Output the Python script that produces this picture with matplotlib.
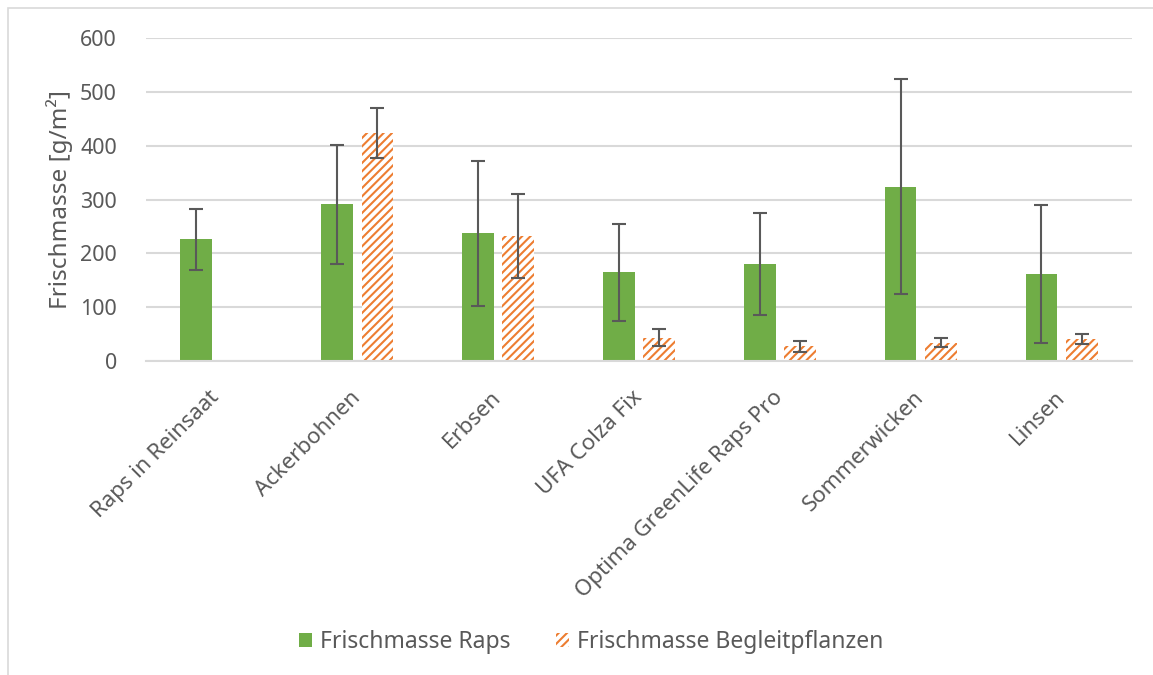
import numpy as np
import matplotlib
matplotlib.use("Agg")
import matplotlib.pyplot as plt
from matplotlib.patches import Rectangle

# Werte
categories = ["Raps in Reinsaat", "Ackerbohnen", "Erbsen", "UFA Colza Fix",
              "Optima GreenLife Raps Pro", "Sommerwicken", "Linsen"]
raps = [226, 291, 237, 165, 180, 324, 162]
raps_err = [57, 111, 135, 90, 95, 199, 128]
begleit = [np.nan, 424, 232, 43, 27, 34, 41]
begleit_err = [np.nan, 46, 78, 16, 11, 8, 10]

GREEN = "#70AD47"
ORANGE = "#ED7D31"
TEXT = "#595959"
GRID = "#D9D9D9"

plt.rcParams["font.family"] = ["Noto Sans", "DejaVu Sans"]
plt.rcParams["hatch.linewidth"] = 1.5

fig = plt.figure(figsize=(11.53, 6.75), dpi=100)
ax = fig.add_axes([146 / 1153, 1 - 361 / 675, 986 / 1153, 323 / 675])

x = np.arange(len(categories))
w = 0.225
off = 0.143

ax.bar(x - off, raps, w, color=GREEN, label="Frischmasse Raps", zorder=2)
ax.bar(x + off, begleit, w, facecolor="white", edgecolor=ORANGE, hatch="////",
       linewidth=0, label="Frischmasse Begleitpflanzen", zorder=2)

err_kw = dict(fmt="none", ecolor=TEXT, elinewidth=1.5, capsize=5, capthick=1.5, zorder=3)
ax.errorbar(x - off, raps, yerr=raps_err, **err_kw)
ax.errorbar(x + off, begleit, yerr=begleit_err, **err_kw)

ax.set_xlim(-0.5, len(categories) - 0.5)
ax.set_ylim(0, 600)
ax.set_yticks(range(0, 601, 100))
ax.yaxis.grid(True, color=GRID, linewidth=1.5, zorder=0)
ax.set_axisbelow(True)
for s in ["top", "right", "left"]:
    ax.spines[s].set_visible(False)
ax.spines["bottom"].set_color(GRID)
ax.spines["bottom"].set_linewidth(1.5)
ax.tick_params(length=0, colors=TEXT)
ax.tick_params(axis="y", labelsize=15.5, pad=21)
ax.tick_params(axis="x", pad=24)

ax.set_xticks(x)
ax.set_xticklabels(categories, rotation=45, ha="right", va="center",
                   rotation_mode="anchor", fontsize=16, color=TEXT)

fig.text(60 / 1153, 1 - 199 / 675, "Frischmasse [g/m²]", rotation=90,
         ha="center", va="center", fontsize=17.5, color=TEXT)

leg = fig.legend(loc="center", bbox_to_anchor=(591 / 1153, 1 - 642 / 675), ncol=2,
                 frameon=False, fontsize=16.5, handlelength=0.55, handleheight=0.55,
                 columnspacing=2.0, handletextpad=0.35)
for t in leg.get_texts():
    t.set_color(TEXT)

# heller Rahmen um die Grafik
fig.patches.append(Rectangle((8 / 1153, -0.1), 1.2, 1 - 8 / 675 + 0.1,
                             transform=fig.transFigure, fill=False,
                             edgecolor=GRID, linewidth=1.2))

fig.savefig("out.png", dpi=100)
